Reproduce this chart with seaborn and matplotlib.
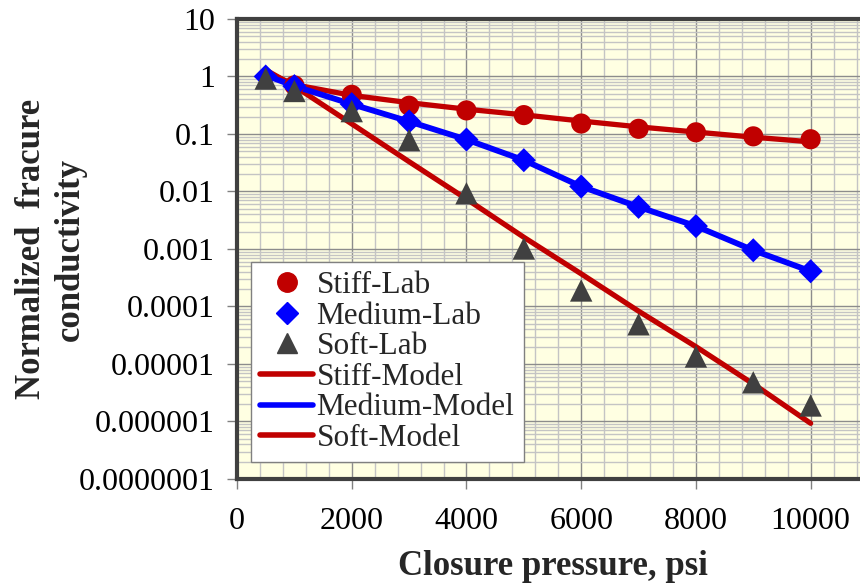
import matplotlib
matplotlib.use("Agg")
import matplotlib.pyplot as plt
import matplotlib.ticker as mticker
from matplotlib.lines import Line2D
import seaborn as sns
import pandas as pd

# ---- data ----
pressure_stiff_lab = [1000, 2000, 3000, 4000, 5000, 6000, 7000, 8000, 9000, 10000]
stiff_lab = [0.70, 0.48, 0.31, 0.257, 0.213, 0.152, 0.123, 0.107, 0.091, 0.081]
pressure_lab = [500, 1000, 2000, 3000, 4000, 5000, 6000, 7000, 8000, 9000, 10000]
medium_lab = [1.0, 0.68, 0.33, 0.165, 0.080, 0.035, 0.0122, 0.0054, 0.0025, 0.00095, 0.00041]
soft_lab = [0.92, 0.56, 0.25, 0.078, 0.0093, 0.00102, 0.00019, 0.000049, 0.0000135, 0.0000048, 0.0000019]

pressure_model = [500, 1000, 2000, 3000, 4000, 5000, 6000, 7000, 8000, 9000, 10000]
stiff_model = [1.2, 0.72, 0.47, 0.35, 0.27, 0.215, 0.168, 0.133, 0.108, 0.088, 0.073]
medium_model = [1.05, 0.68, 0.33, 0.165, 0.080, 0.035, 0.0122, 0.0054, 0.0025, 0.00095, 0.00041]
soft_model = [1.3, 0.68, 0.15, 0.033, 0.0074, 0.0016, 0.00037, 0.000083, 0.00002, 0.0000045, 0.00000093]

y_ticks = [1e1, 1e0, 1e-1, 1e-2, 1e-3, 1e-4, 1e-5, 1e-6, 1e-7]
y_tick_labels = ["10", "1", "0.1", "0.01", "0.001", "0.0001", "0.00001", "0.000001", "0.0000001"]
x_ticks = [0, 2000, 4000, 6000, 8000, 10000]

RED = "#C00000"
BLUE = "#0000FF"
GREY = "#404040"

sns.set_theme(style="white")
plt.rcParams["font.family"] = ["Liberation Serif", "DejaVu Serif"]

fig = plt.figure(figsize=(8.6, 5.84), dpi=100)
ax = fig.add_axes([0.2756, 0.1798, 0.7337, 0.7877])
ax.set_facecolor("#FFFFE2")

stiff_df = pd.DataFrame({"p": pressure_stiff_lab, "stiff": stiff_lab})
lab = pd.DataFrame({"p": pressure_lab, "medium": medium_lab, "soft": soft_lab})
mod = pd.DataFrame({"p": pressure_model, "stiff": stiff_model, "medium": medium_model, "soft": soft_model})

sns.lineplot(data=mod, x="p", y="stiff", color=RED, lw=3.8, ax=ax, zorder=3)
sns.lineplot(data=mod, x="p", y="soft", color=RED, lw=3.8, ax=ax, zorder=3)
sns.lineplot(data=mod, x="p", y="medium", color=BLUE, lw=4.2, ax=ax, zorder=4)

sns.scatterplot(data=stiff_df, x="p", y="stiff", color=RED, marker="o", s=210, edgecolor="none", ax=ax, zorder=5)
sns.scatterplot(data=lab, x="p", y="medium", color=BLUE, marker="D", s=150, edgecolor="none", ax=ax, zorder=5)
sns.scatterplot(data=lab, x="p", y="soft", color=GREY, marker="^", s=260, edgecolor="none", ax=ax, zorder=6)

ax.set_yscale("log")
ax.set_ylim(1e-7, 10)
ax.set_xlim(0, 11000)

ax.yaxis.set_major_locator(mticker.FixedLocator(y_ticks))
ax.yaxis.set_major_formatter(mticker.FixedFormatter(y_tick_labels))
ax.yaxis.set_minor_locator(mticker.LogLocator(base=10, subs=range(2, 10), numticks=20))
ax.yaxis.set_minor_formatter(mticker.NullFormatter())
ax.xaxis.set_major_locator(mticker.FixedLocator(x_ticks))
ax.xaxis.set_minor_locator(mticker.MultipleLocator(400))

ax.grid(True, which="major", color="#8C8C8C", lw=1.0, zorder=0)
ax.grid(True, which="minor", color="#C4C4C4", lw=1.0, zorder=0)
ax.set_axisbelow(True)

ax.tick_params(axis="both", which="major", direction="out", length=7, width=1,
               color="#808080", labelsize=23, labelcolor="black",
               bottom=True, left=True)
ax.tick_params(axis="x", which="major", pad=13)
ax.tick_params(axis="y", which="major", pad=9)
ax.tick_params(which="minor", length=0)

for sp in ax.spines.values():
    sp.set_color(GREY)
    sp.set_linewidth(3)

ax.set_xlabel("Closure pressure, psi", fontsize=25, fontweight="bold", labelpad=10)
ax.set_ylabel("Normalized  fracure\nconductivity", fontsize=25, fontweight="bold",
              linespacing=1.25)
ax.yaxis.set_label_coords(-0.2377, 0.5)

handles = [
    Line2D([], [], color=RED, marker="o", ls="none", markersize=14),
    Line2D([], [], color=BLUE, marker="D", ls="none", markersize=11),
    Line2D([], [], color=GREY, marker="^", ls="none", markersize=15),
    Line2D([], [], color=RED, lw=4),
    Line2D([], [], color=BLUE, lw=4),
    Line2D([], [], color=RED, lw=4),
]
labels = ["Stiff-Lab", "Medium-Lab", "Soft-Lab", "Stiff-Model", "Medium-Model", "Soft-Model"]
leg = ax.legend(handles, labels, loc="upper left", bbox_to_anchor=(0.022, 0.472),
                borderaxespad=0, fontsize=22.5, frameon=True, fancybox=False,
                handlelength=1.7, handletextpad=0.1, labelspacing=0.05,
                borderpad=0.3, framealpha=1)
leg.get_frame().set_edgecolor("#808080")
leg.get_frame().set_linewidth(1.0)
leg.set_zorder(10)

fig.savefig("out.png", dpi=100)
